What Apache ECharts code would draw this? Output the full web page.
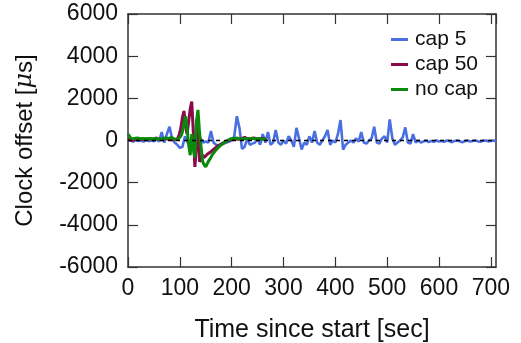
<!DOCTYPE html>
<html>
<head>
<meta charset="utf-8">
<script src="https://cdn.jsdelivr.net/npm/echarts@6/dist/echarts.min.js"></script>
<style>
  html, body { margin: 0; padding: 0; background: #fff; }
  #chart { width: 521px; height: 343px; }
</style>
</head>
<body>
<div id="chart"></div>
<script>
// clock offset vs time, three cap settings
const seriesNames = ['cap 5', 'cap 50', 'no cap'];

// cap 5: sampled every 5 s
const timesCap5 = [
  0, 5, 10, 15, 20, 25, 30, 35, 40, 45, 50, 55, 60, 65, 70, 75, 80, 85, 90, 95,
  100, 105, 110, 115, 120, 125, 130, 135, 140, 145, 150, 155, 160, 165, 170, 175, 180, 185, 190, 195,
  200, 205, 210, 215, 220, 225, 230, 235, 240, 245, 250, 255, 260, 265, 270, 275, 280, 285, 290, 295,
  300, 305, 310, 315, 320, 325, 330, 335, 340, 345, 350, 355, 360, 365, 370, 375, 380, 385, 390, 395,
  400, 405, 410, 415, 420, 425, 430, 435, 440, 445, 450, 455, 460, 465, 470, 475, 480, 485, 490, 495,
  500, 505, 510, 515, 520, 525, 530, 535, 540, 545, 550, 555, 560, 565, 570, 575, 580, 585, 590, 595,
  600, 605, 610, 615, 620, 625, 630, 635, 640, 645, 650, 655, 660, 665, 670, 675, 680, 685, 690, 695,
  700, 705, 710
];
const offsetsCap5 = [
  50, 0, -50, 20, -20, 0, -50, 30, -30, 0, -40, 60, -50, 400, -100, 300, 650, 100, -100, -200,
  -350, -300, 200, -100, -200, -100, -50, -150, 100, -100, -50, -100, 450, -100, -200, -250, -200, -150, -100, -50,
  0, 200, 1150, 600, -400, -300, 100, -200, -150, -100, 100, -200, 300, -100, 400, -200, -100, 500, -100, -200,
  0, -150, 200, 0, -300, 600, 100, -430, -100, -200, 200, -100, 450, -100, -200, 0, 200, 500, -200, 0,
  -100, 300, 970, -430, -200, -100, 0, -100, 100, -50, 400, -100, -150, 0, 100, 650, -100, -150, 100, 200,
  -100, 1000, 100, -200, -100, 0, 150, 620, -100, -150, 300, -100, 0, -100, -50, 0, -80, -20, -60, 0,
  -50, -20, -60, 0, -30, -80, -20, 0, -40, -80, -30, 0, -50, -20, 0, -40, -60, -10, 0, -40,
  -20, 0, -30
];

// cap 50 and no cap: sampled every 3 s
const timesShort = [
  0, 3, 6, 9, 12, 15, 18, 21, 24, 27, 30, 33, 36, 39, 42, 45, 48, 51, 54, 57,
  60, 63, 66, 69, 72, 75, 78, 81, 84, 87, 90, 93, 96, 99, 102, 105, 108, 111, 114, 117,
  120, 123, 126, 129, 132, 135, 138, 141, 144, 147, 150, 153, 156, 159, 162, 165, 168, 171, 174, 177,
  180, 183, 186, 189, 192, 195, 198, 201, 204, 207, 210, 213, 216, 219, 222, 225, 228, 231, 234, 237,
  240, 243, 246, 249, 252, 255, 258, 261, 264, 267
];
const offsetsCap50 = [
  100, 50, 0, 20, 30, 40, 60, 40, 50, 80, 60, 40, 50, 100, 80, 60, 40, 70, 120, 80,
  50, 40, 30, 60, 100, 80, 60, 50, 30, 60, 40, 50, 100, 300, 600, 1100, 1400, 700, 300, 900,
  1500, 1850, 400, -1250, -300, 1100, -1000, -900, -700, -800, -750, -650, -600, -550, -500, -420, -380, -300, -250, -200,
  -160, -120, -60, -40, -20, 0, 20, 60, 40, 80, 100, 60, 120, 80, 100, 150, 120, 80, 60, 100,
  80, 120, 100, 60, 80, 100, 60, 80, 60, 50
];
const offsetsNoCap = [
  300, 200, 80, 50, 100, 80, 120, 60, 80, 150, 100, 60, 80, 120, 100, 60, 80, 150, 100, 80,
  60, 100, 80, 50, 120, 80, 100, 60, 150, 100, 60, 80, 50, 100, 200, 400, 800, 1150, 600, -200,
  -700, 300, -400, -800, 900, 1450, 400, -300, -1000, -1150, -1250, -1100, -950, -850, -700, -600, -500, -420, -340, -280,
  -200, -150, -100, -60, 0, 40, 80, 60, 100, 150, 120, 100, 60, 100, 80, 150, 100, 80, 60, 120,
  100, 150, 80, 120, 100, 80, 60, 50, 60, 40
];

const colors = ['#4a6fe3', '#8c0a4a', '#0a8a0a'];
const fontFamily = '"Liberation Sans", Arial, sans-serif';

const pairs = (xs, ys) => xs.map((x, i) => [x, ys[i]]);

const chart = echarts.init(document.getElementById('chart'));

const axisLine = { show: true, onZero: false, lineStyle: { color: '#333', width: 1.5 } };
const tick = { show: true, inside: true, length: 10, lineStyle: { color: '#333', width: 1.2 } };

chart.setOption({
  animation: false,
  backgroundColor: '#fff',
  textStyle: { fontFamily: fontFamily },
  grid: { left: 128, right: 25, top: 14, bottom: 76, containLabel: false, outerBoundsMode: 'none' },
  legend: {
    orient: 'vertical',
    left: 386,
    top: 24,
    itemGap: 4,
    itemWidth: 17,
    itemHeight: 3,
    icon: 'rect',
    data: seriesNames,
    textStyle: { fontSize: 21, color: '#111', fontFamily: fontFamily, padding: [0, 0, 0, 2] }
  },
  xAxis: [
    {
      type: 'value', position: 'bottom', min: 0, max: 710, interval: 100,
      name: 'Time since start [sec]', nameLocation: 'middle', nameGap: 51,
      nameTextStyle: { fontSize: 25, color: '#111' },
      axisLine: axisLine, axisTick: tick, splitLine: { show: false },
      axisLabel: { fontSize: 23, color: '#111', margin: 10, showMaxLabel: false,
        formatter: v => (v % 100 === 0 ? String(v) : '') }
    },
    {
      type: 'value', position: 'top', min: 0, max: 710, interval: 100,
      axisLine: axisLine, axisTick: tick, splitLine: { show: false },
      axisLabel: { show: false }
    }
  ],
  yAxis: [
    {
      type: 'value', position: 'left', min: -6000, max: 6000, interval: 2000,
      name: '{n|Clock offset [}{m|μ}{n|s]}', nameLocation: 'middle', nameGap: 91,
      nameTextStyle: { rich: { n: { fontSize: 24, color: '#111' }, m: { fontSize: 24, color: '#111', fontStyle: 'italic', fontFamily: '"DejaVu Serif", serif' } } },
      axisLine: axisLine, axisTick: tick, splitLine: { show: false },
      axisLabel: { fontSize: 23, color: '#111', margin: 10, formatter: v => String(v) }
    },
    {
      type: 'value', position: 'right', min: -6000, max: 6000, interval: 2000,
      axisLine: axisLine, axisTick: tick, splitLine: { show: false },
      axisLabel: { show: false }
    }
  ],
  series: [
    {
      name: seriesNames[0], type: 'line', showSymbol: false, color: colors[0],
      lineStyle: { width: 2.6 }, data: pairs(timesCap5, offsetsCap5)
    },
    {
      name: seriesNames[1], type: 'line', showSymbol: false, color: colors[1],
      lineStyle: { width: 3 }, data: pairs(timesShort, offsetsCap50)
    },
    {
      name: seriesNames[2], type: 'line', showSymbol: false, color: colors[2],
      lineStyle: { width: 3 }, data: pairs(timesShort, offsetsNoCap),
      markLine: {
        silent: true, symbol: 'none', label: { show: false },
        lineStyle: { color: '#000', width: 1.3, type: [4, 4] },
        data: [{ yAxis: 0 }]
      }
    }
  ]
});
</script>
</body>
</html>
